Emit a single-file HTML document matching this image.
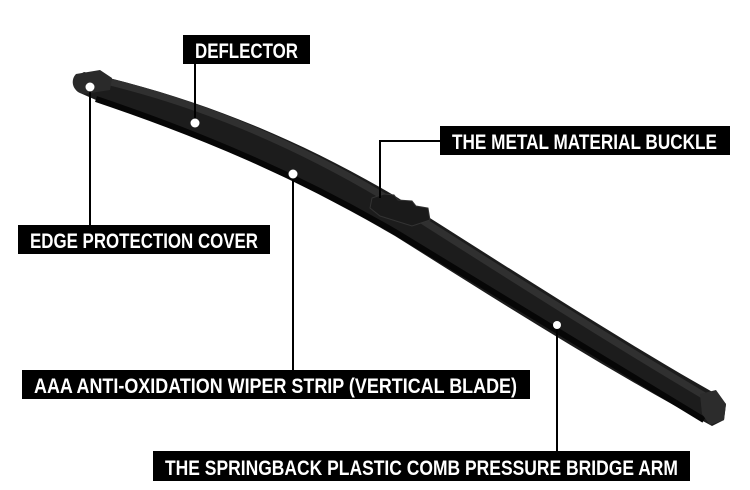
<!DOCTYPE html>
<html><head><meta charset="utf-8"><style>
html,body{margin:0;padding:0;background:#fff;}
svg{display:block}
text{font-family:"Liberation Sans Narrow","Liberation Sans",sans-serif;font-weight:bold;fill:#fff;font-size:21px;}
</style></head><body>
<svg width="750" height="490" viewBox="0 0 750 490" xmlns="http://www.w3.org/2000/svg">
<!-- blade body -->
<path d="M84,72 C190,96 290,134 395,196 C500,262 610,334 716,394 L726,404 L724,420 L712,426 C600,366 500,302 395,236 C295,178 200,136 96,100 L80,93 C72,90 72,78 84,72 Z" fill="#1c1c1c"/>
<path d="M110,82 C200,104 295,142 398,205 C500,270 610,340 708,398" fill="none" stroke="#303030" stroke-width="7"/>
<path d="M96,99 C200,134 295,174 395,232 C500,296 605,360 704,420" fill="none" stroke="#060606" stroke-width="6"/>
<!-- end caps -->
<path d="M76,74 L100,70 L112,78 L110,90 L84,94 C72,92 70,80 76,74 Z" fill="#2a2a2a"/>
<path d="M700,394 L716,390 L726,404 L724,420 L710,425 L702,414 Z" fill="#2c2c2c"/>
<!-- buckle -->
<path d="M372,198 L384,194 L394,195 L398,200 L412,201 L416,206 L428,208 L430,220 L412,226 L380,216 L370,208 Z" fill="#1a1a1a" stroke="#333" stroke-width="1"/>
<!-- leader lines -->
<g stroke="#000" stroke-width="2" fill="none">
<line x1="195" y1="64" x2="195" y2="123"/>
<line x1="90" y1="87" x2="90" y2="226"/>
<line x1="293" y1="174" x2="293" y2="371"/>
<polyline points="440,141 380,141 380,198"/>
<line x1="557" y1="325" x2="557" y2="451"/>
</g>
<g fill="#fff">
<circle cx="195" cy="123" r="4.5"/>
<circle cx="90" cy="87" r="4.5"/>
<circle cx="293" cy="174" r="4.5"/>
<circle cx="557" cy="325" r="4"/>
</g>
<!-- labels -->
<rect x="183" y="35" width="127" height="29" fill="#000"/>
<text x="195" y="58" textLength="103" lengthAdjust="spacingAndGlyphs">DEFLECTOR</text>
<rect x="440" y="126" width="290" height="29" fill="#000"/>
<text x="452" y="149" textLength="265" lengthAdjust="spacingAndGlyphs">THE METAL MATERIAL BUCKLE</text>
<rect x="18" y="225" width="252" height="29" fill="#000"/>
<text x="30" y="248" textLength="228" lengthAdjust="spacingAndGlyphs">EDGE PROTECTION COVER</text>
<rect x="22" y="370" width="508" height="29" fill="#000"/>
<text x="34" y="393" textLength="483" lengthAdjust="spacingAndGlyphs">AAA ANTI-OXIDATION WIPER STRIP (VERTICAL BLADE)</text>
<rect x="153" y="451" width="537" height="30" fill="#000"/>
<text x="165" y="475" textLength="513" lengthAdjust="spacingAndGlyphs">THE SPRINGBACK PLASTIC COMB PRESSURE BRIDGE ARM</text>
</svg>
</body></html>
